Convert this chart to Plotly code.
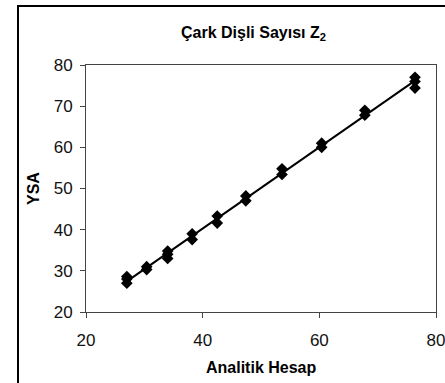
import numpy as np
import plotly.graph_objects as go

# Analitik Hesap (x) vs YSA (y)
analitik = [27, 27, 27, 30.4, 30.4, 34, 34, 34, 38.2, 38.2, 42.5, 42.5,
            47.4, 47.4, 53.6, 53.6, 60.4, 60.4, 67.8, 67.8, 76.4, 76.4, 76.4]
ysa = [27.0, 28.0, 28.6, 30.3, 31.0, 33.0, 34.0, 34.8, 37.6, 39.0, 41.6, 43.3,
       47.0, 48.2, 53.4, 54.8, 60.0, 61.0, 67.8, 69.0, 74.4, 76.0, 77.0]

x_ticks = [20, 40, 60, 80]
y_ticks = [20, 30, 40, 50, 60, 70, 80]

title_text = "Çark Dişli Sayısı Z<sub>2</sub>"
x_title = "Analitik Hesap"
y_title = "YSA"

xa = np.array(analitik)
ya = np.array(ysa)
slope, intercept = np.polyfit(xa, ya, 1)
line_x = [float(xa.min()), float(xa.max())]
line_y = [slope * v + intercept for v in line_x]

fig = go.Figure()
fig.add_trace(go.Scatter(x=line_x, y=line_y, mode="lines",
                         line=dict(color="black", width=2), showlegend=False,
                         hoverinfo="skip"))
fig.add_trace(go.Scatter(x=analitik, y=ysa, mode="markers",
                         marker=dict(symbol="diamond", size=9, color="black"),
                         showlegend=False))

# canvas slightly wider than the window so the right-most label is cut by the window edge
W, H = 460, 383
L, R, T, B = 86, 24, 65, 71
pw, ph = W - L - R, H - T - B

def px2x(p):
    return (p - L) / pw

def px2y(p):
    return (H - B - p) / ph

font_family = "Liberation Sans, Arial, sans-serif"

fig.update_layout(
    width=W, height=H,
    margin=dict(l=L, r=R, t=T, b=B, autoexpand=False),
    paper_bgcolor="white", plot_bgcolor="white",
    font=dict(family=font_family, color="#111111", size=17),
    shapes=[dict(type="rect", xref="paper", yref="paper",
                 x0=px2x(18), x1=px2x(470), y0=px2y(400), y1=px2y(6),
                 line=dict(color="black", width=2), fillcolor="rgba(0,0,0,0)",
                 layer="below")],
    annotations=[
        dict(text="<b>" + title_text + "</b>", xref="paper", yref="paper",
             x=px2x(253), y=px2y(33), showarrow=False,
             font=dict(size=16, family=font_family, color="black"),
             xanchor="center", yanchor="middle"),
        dict(text="<b>" + x_title + "</b>", xref="paper", yref="paper",
             x=px2x(261), y=px2y(367), showarrow=False,
             font=dict(size=16, family=font_family, color="black"),
             xanchor="center", yanchor="middle"),
        dict(text="<b>" + y_title + "</b>", xref="paper", yref="paper",
             x=px2x(33), y=px2y(188), showarrow=False, textangle=-90,
             font=dict(size=16, family=font_family, color="black"),
             xanchor="center", yanchor="middle"),
    ],
)

fig.update_xaxes(range=[20, 80], tickvals=x_ticks, showgrid=False, zeroline=False,
                 showline=True, linecolor="#444444", linewidth=1, mirror=True,
                 ticks="outside", ticklen=5, tickcolor="#444444",
                 ticklabelstandoff=8, ticklabeloverflow="allow",
                 tickfont=dict(size=17))
fig.update_yaxes(range=[20, 80], tickvals=y_ticks, showgrid=False, zeroline=False,
                 showline=True, linecolor="#444444", linewidth=1, mirror=True,
                 ticks="outside", ticklen=5, tickcolor="#444444",
                 ticklabelstandoff=4, tickfont=dict(size=17))

fig.write_html("out.html", config={"displayModeBar": False},
               post_script="document.body.style.margin='0';"
                           "document.body.style.overflow='hidden';")
